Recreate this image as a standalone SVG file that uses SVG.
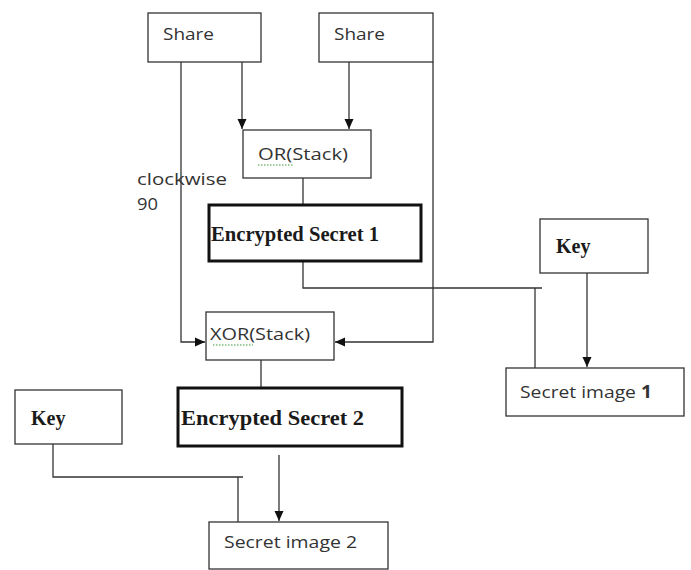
<svg xmlns="http://www.w3.org/2000/svg" width="691" height="570" viewBox="0 0 691 570">
<style>
.box{fill:#fff;stroke:#333;stroke-width:1.3}
.thick{fill:#fff;stroke:#111;stroke-width:3}
.ln{fill:none;stroke:#333;stroke-width:1.3}
.s{font-family:"Open Sans","Liberation Sans",sans-serif;font-size:17px;fill:#333}
.serif{font-family:"Liberation Serif",serif;fill:#1a1a1a}
.sp{fill:none;stroke:#3a9a3a;stroke-width:1;stroke-dasharray:1.5 1.5}
</style>
<defs>
<marker id="ah" markerWidth="11" markerHeight="11" refX="10" refY="5.5" orient="auto" markerUnits="userSpaceOnUse">
<path d="M0,1 L10,5.5 L0,10 Z" fill="#111"/>
</marker>
</defs>
<rect width="691" height="570" fill="#fff"/>
<g id="connectors">
<path class="ln" d="M242,62 V129" marker-end="url(#ah)"/>
<path class="ln" d="M349,62 V129" marker-end="url(#ah)"/>
<path class="ln" d="M181,62 V342 H205" marker-end="url(#ah)"/>
<path class="ln" d="M433,62 V342 H335" marker-end="url(#ah)"/>
<path class="ln" d="M303,178 V205"/>
<path class="ln" d="M303,262 V288 H542"/>
<path class="ln" d="M535,288 V368"/>
<path class="ln" d="M587,273 V367" marker-end="url(#ah)"/>
<path class="ln" d="M261,360 V388"/>
<path class="ln" d="M53,444 V477 H243"/>
<path class="ln" d="M238,477 V522"/>
<path class="ln" d="M279,455 V521" marker-end="url(#ah)"/>
</g>
<g id="share1">
<rect class="box" x="148" y="13" width="113" height="49"/>
<text class="s" x="163" y="40" textLength="51" lengthAdjust="spacingAndGlyphs">Share</text>
</g>
<g id="share2">
<rect class="box" x="319" y="13" width="114" height="49"/>
<text class="s" x="334" y="40" textLength="51" lengthAdjust="spacingAndGlyphs">Share</text>
</g>
<g id="or">
<rect class="box" x="243" y="130" width="128" height="48"/>
<text class="s" x="258" y="160" textLength="90" lengthAdjust="spacingAndGlyphs">OR(Stack)</text>
<line class="sp" x1="258" y1="165" x2="293" y2="165"/>
</g>
<g id="label-clockwise">
<text class="s" x="137" y="185" textLength="90" lengthAdjust="spacingAndGlyphs">clockwise</text>
<text class="s" x="137" y="210" textLength="21" lengthAdjust="spacingAndGlyphs">90</text>
</g>
<g id="enc1">
<rect class="thick" x="209" y="205" width="212" height="56"/>
<text class="serif" x="211" y="241" font-size="20" font-weight="bold" textLength="168" lengthAdjust="spacingAndGlyphs">Encrypted Secret 1</text>
</g>
<g id="key1">
<rect class="box" x="540" y="219" width="108" height="54"/>
<text class="serif" x="556" y="253" font-size="20" font-weight="bold">Key</text>
</g>
<g id="secret1">
<rect class="box" x="506" y="368" width="178" height="48"/>
<text class="s" x="520" y="398" textLength="132" lengthAdjust="spacingAndGlyphs">Secret image <tspan font-weight="bold">1</tspan></text>
</g>
<g id="xor">
<rect class="box" x="206" y="312" width="128" height="48"/>
<text class="s" x="210" y="340" textLength="100" lengthAdjust="spacingAndGlyphs">XOR(Stack)</text>
<line class="sp" x1="213" y1="345" x2="253" y2="345"/>
</g>
<g id="enc2">
<rect class="thick" x="178" y="388" width="224" height="58"/>
<text class="serif" x="181" y="425" font-size="20" font-weight="bold" textLength="183" lengthAdjust="spacingAndGlyphs">Encrypted Secret  2</text>
</g>
<g id="key2">
<rect class="box" x="15" y="390" width="107" height="54"/>
<text class="serif" x="31" y="425" font-size="20" font-weight="bold">Key</text>
</g>
<g id="secret2">
<rect class="box" x="209" y="522" width="179" height="47"/>
<text class="s" x="224" y="548" textLength="133" lengthAdjust="spacingAndGlyphs">Secret image 2</text>
</g>
</svg>
